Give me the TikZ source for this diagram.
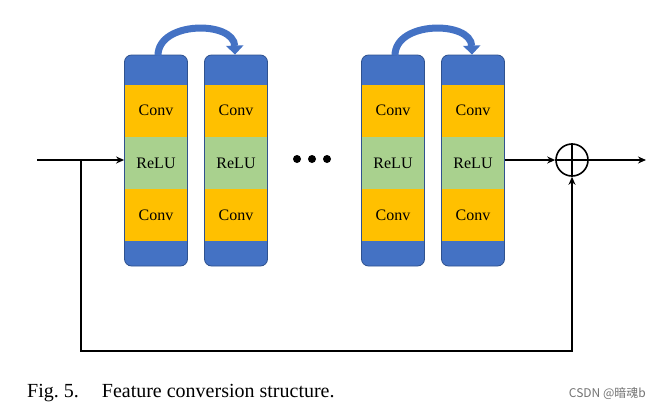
\documentclass[tikz,border=0pt]{standalone}
\usepackage{fontspec}
\setmainfont{Liberation Serif}
\newfontfamily\cjkfont{Noto Sans CJK SC}
\usetikzlibrary{calc,positioning,arrows.meta}

\definecolor{blkblue}{HTML}{4472C4}
\definecolor{blkedge}{HTML}{2F528F}
\definecolor{convyellow}{HTML}{FFC000}
\definecolor{relugreen}{HTML}{A9D18E}

% one residual block: name, left edge
\newcommand{\convblock}[2]{%
  \node[blk] (#1) at (#2+31,160.5) {};
  \node[part, fill=convyellow] (#1c1) at (#2+31,110.5) {Conv};
  \node[part, fill=relugreen, below=0pt of #1c1] (#1r) {ReLU};
  \node[part, fill=convyellow, below=0pt of #1r] (#1c2) {Conv};
}

\begin{document}
\begin{tikzpicture}[
    %	style def
    x=1pt, y=-1pt,
    blk/.style={draw=blkedge, fill=blkblue, rounded corners=7pt, minimum width=63pt, minimum height=211pt, inner sep=0pt, line width=0.8pt},
    part/.style={minimum width=61.5pt, minimum height=52pt, inner sep=0pt, font=\fontsize{16}{18}\selectfont},
    sig/.style={line width=1.4pt, -{Stealth[length=8pt,width=7pt]}},
    hop/.style={draw=blkblue, line width=7pt, -{Triangle[length=9pt,width=17pt]}}
    ]
    \useasboundingbox (0,0) rectangle (653,410);

    % the four blocks
    \convblock{b1}{125}
    \convblock{b2}{205}
    \convblock{b3}{362}
    \convblock{b4}{442}

    % skip arcs over the blocks
    \draw[hop] ($(b1.north)+(2,1)$) .. controls ($(b1.north)+(2,-34)$) and ($(b2.north)+(-2,-34)$) .. ($(b2.north)+(-1,0)$);
    \draw[hop] ($(b3.north)+(2,1)$) .. controls ($(b3.north)+(2,-34)$) and ($(b4.north)+(-2,-34)$) .. ($(b4.north)+(-1,0)$);

    % dots between the groups
    \fill[black] (297,159) coordinate (d1) circle (4pt)
                 (312,159) coordinate (d2) circle (4pt)
                 (327,159) coordinate (d3) circle (4pt);

    % adder
    \node[circle, draw, line width=1.6pt, minimum size=32pt, inner sep=0pt] (sum) at (572,160) {};
    \draw[line width=1.6pt] (sum.north) -- (sum.south) (sum.west) -- (sum.east);

    % signal lines
    \coordinate (in) at (37,160);
    \coordinate (br) at (81,160);
    \coordinate (out) at (646,160);
    \coordinate (low) at (81,351);
    \draw[sig] (in) -- (b1.west |- in);
    \draw[sig] (b4.east |- sum) -- (sum.west);
    \draw[sig] (sum.east) -- (out);
    \draw[sig] (br) -- (low) -| (sum.south);

    % caption
    \node[anchor=base west, font=\fontsize{20}{22}\selectfont, inner sep=0pt] (cap) at (27,397) {Fig.~5.\hspace{23pt}Feature conversion structure.};
    \node[anchor=base east, font=\cjkfont\fontsize{12}{14}\selectfont, text=black!55, inner sep=0pt] (mark) at (646,397) {CSDN @暗魂b};
\end{tikzpicture}
\end{document}
